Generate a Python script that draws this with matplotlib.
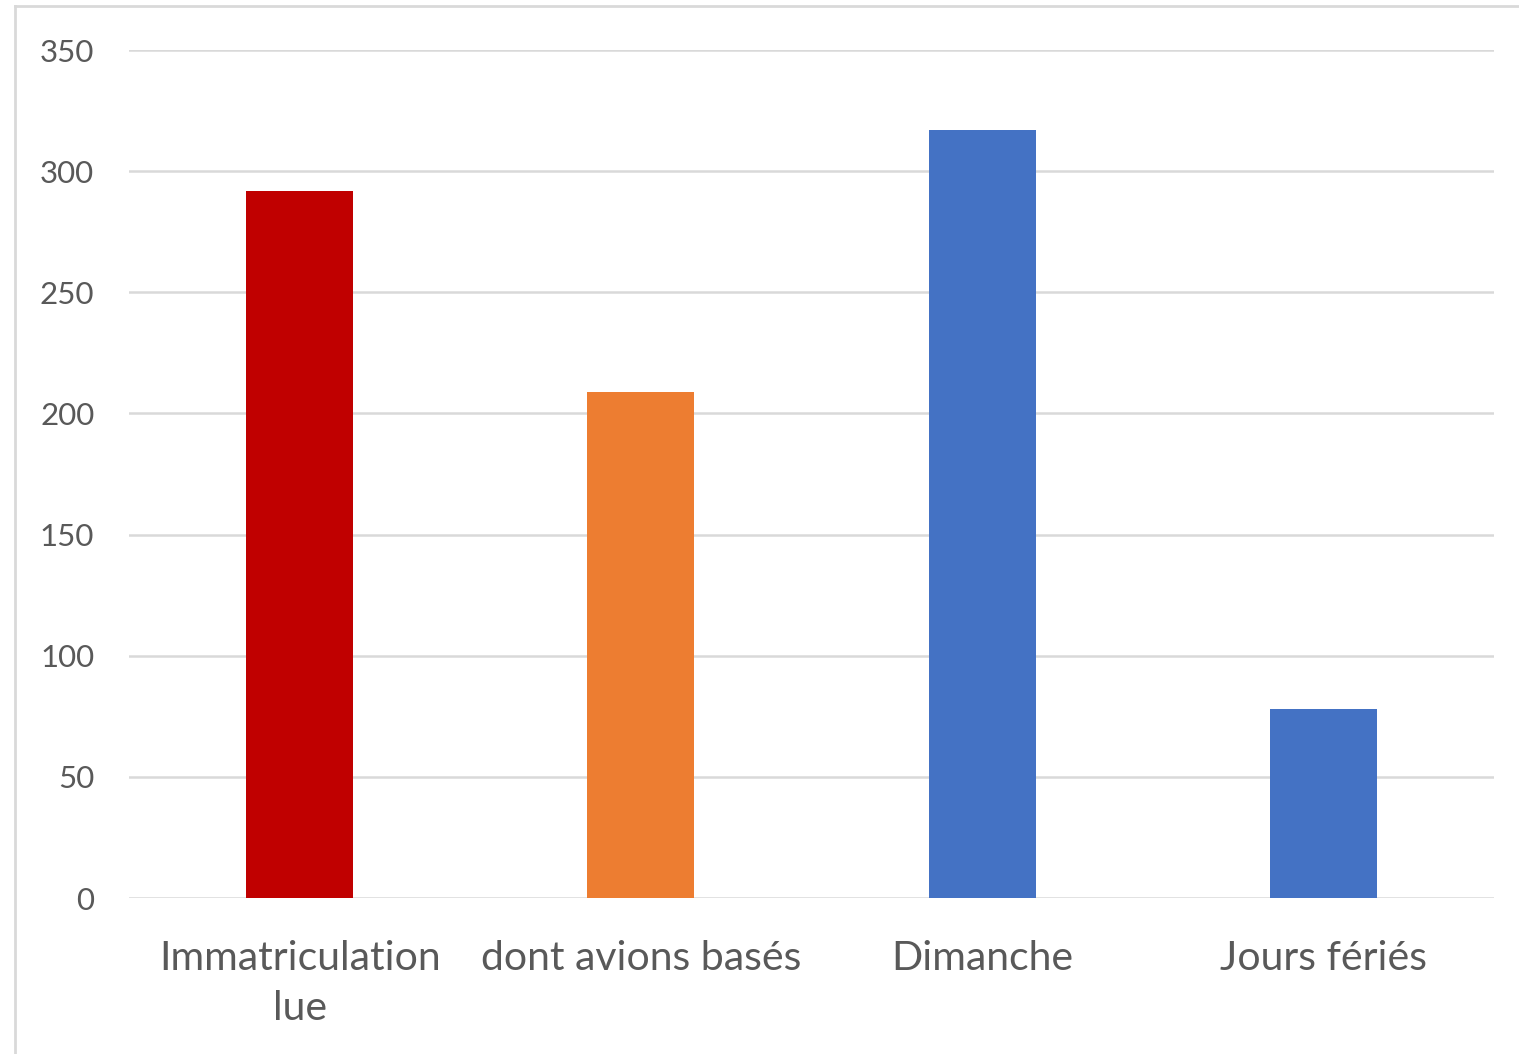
import matplotlib.pyplot as plt
from matplotlib.lines import Line2D

# data
categories = ["Immatriculation\nlue", "dont avions basés", "Dimanche", "Jours fériés"]
values = [292, 209, 317, 78]
colors = ["#C00000", "#ED7D31", "#4472C4", "#4472C4"]
yticks = [0, 50, 100, 150, 200, 250, 300, 350]

W, H = 1519, 1054
fig = plt.figure(figsize=(W / 100, H / 100), dpi=100)
ax = fig.add_axes([129 / W, 1 - 898 / H, (1494 - 129) / W, (898 - 50) / H])

x = range(len(categories))
ax.bar(x, values, width=0.314, color=colors, zorder=3)

ax.set_xlim(-0.5, len(categories) - 0.5)
ax.set_ylim(0, 350)
ax.set_yticks(yticks)
ax.set_xticks(list(x))
ax.set_xticklabels(categories, linespacing=1.45)

ax.grid(axis="y", color="#d9d9d9", linewidth=1.8, zorder=0)
for s in ax.spines.values():
    s.set_visible(False)
ax.tick_params(axis="both", length=0, colors="#595959")
ax.tick_params(axis="y", labelsize=22.5, pad=25)
ax.tick_params(axis="x", labelsize=29.5, pad=30)
for lab in ax.get_xticklabels() + ax.get_yticklabels():
    lab.set_fontfamily("Lato")

# outer chart frame (only left and top edges visible)
fig.add_artist(Line2D([15 / W, 15 / W], [0, 1 - 6 / H], color="#d9d9d9", linewidth=2, transform=fig.transFigure))
fig.add_artist(Line2D([15 / W, 1], [1 - 6 / H, 1 - 6 / H], color="#d9d9d9", linewidth=2, transform=fig.transFigure))

fig.savefig("out.png", dpi=100)
